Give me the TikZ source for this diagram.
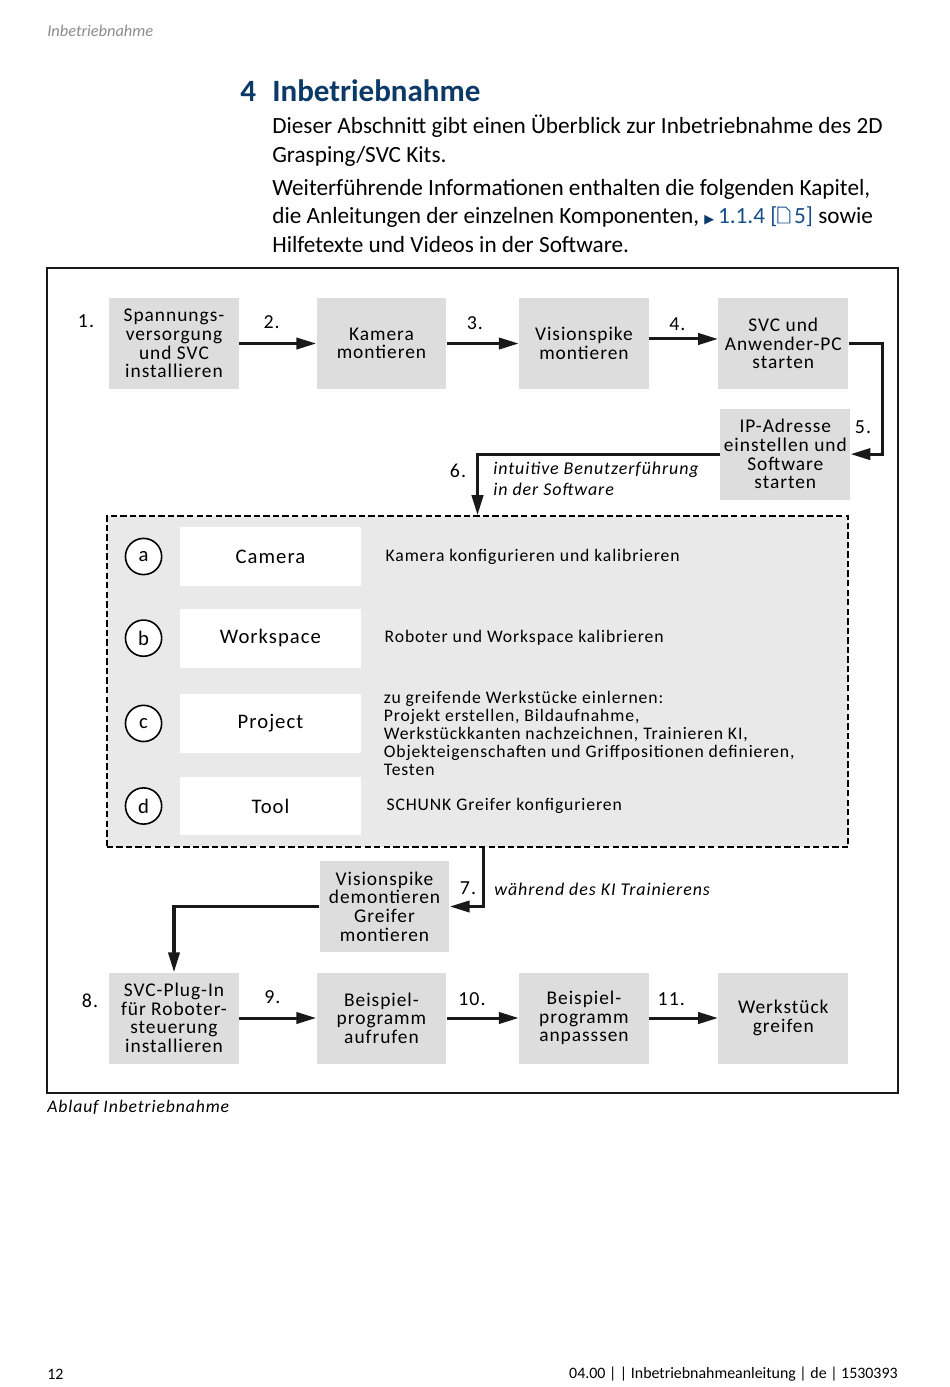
\documentclass[tikz,border=0pt]{standalone}
\usepackage{fontspec}
\setmainfont{Carlito}
\newfontfamily\boxfont[LetterSpace=5]{Carlito}
\newfontfamily\dejavu{DejaVu Sans}
\usetikzlibrary{arrows.meta, positioning, calc}
\definecolor{schunkblue}{RGB}{12, 58, 104}
\definecolor{linkblue}{RGB}{22, 78, 138}
\definecolor{boxgray}{RGB}{221, 221, 221}
\definecolor{panelgray}{RGB}{233, 233, 233}
\definecolor{headgray}{RGB}{140, 140, 140}
\definecolor{darkgray}{RGB}{25, 25, 25}

\begin{document}
\begin{tikzpicture}[
    x=0.0221cm, y=-0.0221cm,
    stepbox/.style={rectangle, minimum width=2.87cm, minimum height=2.01cm, inner sep=1pt, fill=boxgray, align=center, font=\boxfont\fontsize{12.2}{11.7}\selectfont},
    tabbox/.style={rectangle, minimum width=4cm, minimum height=1.3cm, fill=white, font=\boxfont\fontsize{13}{15}\selectfont},
    letter/.style={circle, draw, line width=1pt, minimum size=0.8cm, inner sep=0pt, fill=white, font=\boxfont\fontsize{13}{14}\selectfont},
    desc/.style={align=left, inner sep=0pt, font=\boxfont\fontsize{11.1}{11.3}\selectfont},
    steplabel/.style={inner sep=0pt, font=\boxfont\fontsize{12.5}{14}\selectfont},
    note/.style={anchor=west, align=left, inner sep=0pt, font=\boxfont\itshape\fontsize{11.3}{13}\selectfont},
    panel/.style={rectangle, draw, dash pattern=on 4pt off 2pt, line width=0.9pt, fill=panelgray, minimum width=16.38cm, minimum height=7.32cm},
    bodyline/.style={anchor=base west, inner sep=0pt, font=\fontsize{14.6}{17}\selectfont},
    arrow/.style={line width=1.9pt, -{Triangle[length=0.44cm, width=0.25cm]}, draw=darkgray}
]
\fill [white] (0,0) rectangle (950,1387);
\useasboundingbox (0,0) rectangle (950,1387);

% page head and section text
\node (runhead) [anchor=base west, inner sep=0pt, text=headgray, font=\itshape\fontsize{10.3}{12}\selectfont] at (47,36) {Inbetriebnahme};
\node (secno) [anchor=base west, inner sep=0pt, text=schunkblue, font=\bfseries\fontsize{19.5}{23}\selectfont] at (240,101) {4};
\node (sectitle) [anchor=base west, inner sep=0pt, text=schunkblue, font=\bfseries\fontsize{19.5}{23}\selectfont] at (272,101) {Inbetriebnahme};
\node (intro1) [bodyline] at (272,133) {Dieser Abschnitt gibt einen Überblick zur Inbetriebnahme des 2D};
\node (intro2) [bodyline] at (272,162) {Grasping/SVC Kits.};
\node (more1) [bodyline] at (272,195) {Weiterführende Informationen enthalten die folgenden Kapitel,};
\node (more2) [bodyline] at (272,223) {die Anleitungen der einzelnen Komponenten, {\color{linkblue}{\dejavu\fontsize{8}{10}\selectfont\color{schunkblue}▶}\,1.1.4 [\tikz[x=1pt,y=1pt,baseline=0pt,line width=0.6pt]\draw[linkblue] (0,0) -- (0,10) -- (5,10) -- (7.5,7.5) -- (7.5,0) -- cycle;\,5]} sowie};
\node (more3) [bodyline] at (272,252) {Hilfetexte und Videos in der Software.};

% frame
\draw [line width=1.2pt, draw=darkgray] (47,268) rectangle (898,1093);

% steps 1 to 5
\node (spannung) [stepbox] at (174,343.5) {Spannungs-\\versorgung\\und SVC\\installieren};
\node (kamera) [stepbox, right=1.70cm of spannung] {Kamera\\montieren};
\node (vspike) [stepbox, right=1.59cm of kamera] {Visionspike\\montieren};
\node (svcpc) [stepbox, right=1.52cm of vspike] {SVC und\\Anwender-PC\\starten};
\node (ipadr) [stepbox, below=0.42cm of svcpc, xshift=0.044cm] {IP-Adresse\\einstellen und\\Software\\starten};

% software steps
\node (setup) [panel] at (477.5,681.5) {};
\node (camwin) [tabbox] at (270.5,556.5) {Camera};
\node (wswin) [tabbox, below=0.49cm of camwin] {Workspace};
\node (projwin) [tabbox, below=0.57cm of wswin] {Project};
\node (toolwin) [tabbox, below=0.51cm of projwin] {Tool};
\node (ca) [letter, left=0.38cm of camwin] {a};
\node (cb) [letter, left=0.38cm of wswin] {b};
\node (cc) [letter, left=0.38cm of projwin] {c};
\node (cd) [letter, left=0.38cm of toolwin] {d};
\node (camdesc) [desc, right=0.53cm of camwin] {Kamera konfigurieren und kalibrieren};
\node (wsdesc) [desc, right=0.51cm of wswin] {Roboter und Workspace kalibrieren};
\node (projdesc) [desc, right=0.49cm of projwin, yshift=-0.23cm] {zu greifende Werkstücke einlernen:\\Projekt erstellen, Bildaufnahme,\\Werkstückkanten nachzeichnen, Trainieren KI,\\Objekteigenschaften und Griffpositionen definieren,\\Testen};
\node (tooldesc) [desc, right=0.55cm of toolwin] {SCHUNK Greifer konfigurieren};

% steps 7 to 11
\node (demont) [stepbox] at (384.5,906.5) {Visionspike\\demontieren\\Greifer\\montieren};
\node (plugin) [stepbox] at (174,1018) {SVC-Plug-In\\für Roboter-\\steuerung\\installieren};
\node (bsp1) [stepbox, right=1.70cm of plugin] {Beispiel-\\programm\\aufrufen};
\node (bsp2) [stepbox, right=1.59cm of bsp1] {Beispiel-\\programm\\anpasssen};
\node (greifen) [stepbox, right=1.52cm of bsp2] {Werkstück\\greifen};

\draw [arrow] (spannung.east) -- node (n2) [steplabel, pos=0.42, yshift=0.47cm] {2.} (kamera.west);
\draw [arrow] (kamera.east) -- node (n3) [steplabel, pos=0.39, yshift=0.44cm] {3.} (vspike.west);
\draw [arrow] ([yshift=0.1cm]vspike.east) -- node (n4) [steplabel, pos=0.41, yshift=0.33cm] {4.} ([yshift=0.1cm]svcpc.west);
\draw [arrow] (svcpc.east) -- ++(34,0) |- (ipadr.east);
\draw [arrow] (ipadr.west) -| (setup.north);
\draw [arrow] ([xshift=0.14cm]setup.south) |- (demont.east);
\draw [arrow] (demont.west) -| (plugin.north);
\draw [arrow] (plugin.east) -- node (n9) [steplabel, pos=0.43, yshift=0.47cm] {9.} (bsp1.west);
\draw [arrow] (bsp1.east) -- node (n10) [steplabel, pos=0.35, yshift=0.42cm] {10.} (bsp2.west);
\draw [arrow] (bsp2.east) -- node (n11) [steplabel, pos=0.32, yshift=0.42cm] {11.} (greifen.west);

\node (n1) [steplabel] at (86,321) {1.};
\node (n5) [steplabel] at (863,427) {5.};
\node (n6) [steplabel] at (458,471) {6.};
\node (n7) [steplabel] at (468,888) {7.};
\node (n8) [steplabel] at (90,1001) {8.};
\node (guide) [note] at (493,478.5) {intuitive Benutzerführung\\in der Software};
\node (train) [note] at (494,889) {während des KI Trainierens};

% caption and page foot
\node (caption) [anchor=west, inner sep=0pt, font=\boxfont\itshape\fontsize{11.1}{13}\selectfont] at (47,1107) {Ablauf Inbetriebnahme};
\node (pageno) [anchor=west, inner sep=0pt, font=\fontsize{10}{12}\selectfont] at (47,1374) {12};
\node (docid) [anchor=east, inner sep=0pt, font=\fontsize{10}{12}\selectfont] at (898,1374) {04.00 | | Inbetriebnahmeanleitung | de | 1530393};

\end{tikzpicture}
\end{document}
